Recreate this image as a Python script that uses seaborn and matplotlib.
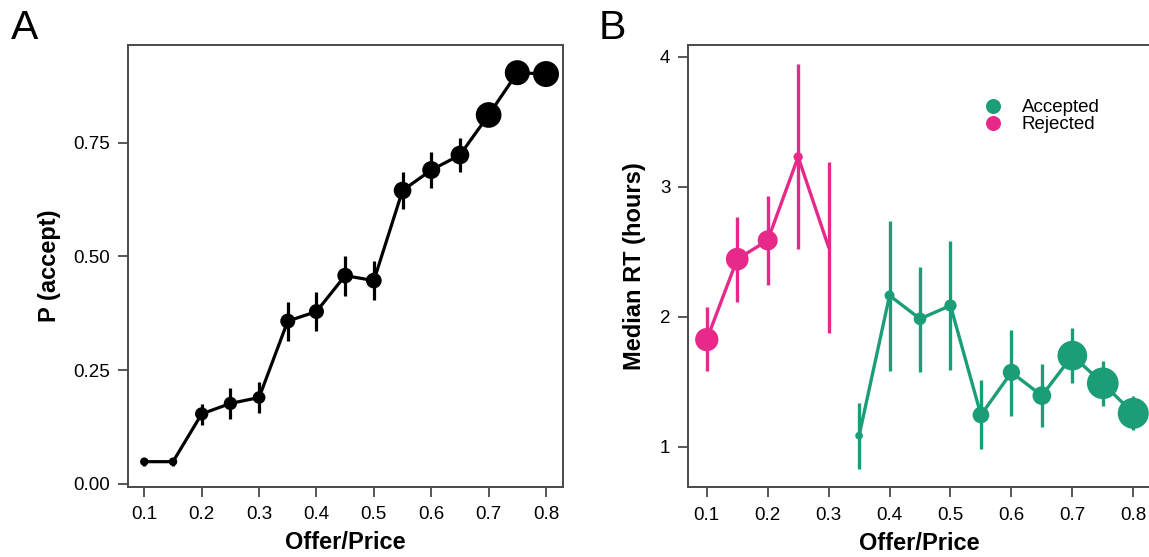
import matplotlib
matplotlib.use("Agg")
import matplotlib.pyplot as plt
from matplotlib.lines import Line2D
import seaborn as sns
import pandas as pd

# ---------------- data ----------------
offer = [0.10, 0.15, 0.20, 0.25, 0.30, 0.35, 0.40, 0.45, 0.50, 0.55, 0.60, 0.65, 0.70, 0.75, 0.80]
p_accept = [0.049, 0.049, 0.154, 0.177, 0.190, 0.358, 0.379, 0.458, 0.447, 0.645, 0.690, 0.723, 0.811, 0.904, 0.901]
p_lo = [0.040, 0.040, 0.130, 0.143, 0.155, 0.314, 0.336, 0.414, 0.404, 0.604, 0.651, 0.686, 0.792, 0.889, 0.886]
p_hi = [0.058, 0.058, 0.176, 0.212, 0.224, 0.401, 0.423, 0.502, 0.490, 0.686, 0.730, 0.761, 0.830, 0.919, 0.916]
n_a = [72, 72, 177, 177, 161, 225, 225, 246, 246, 313, 324, 350, 660, 625, 676]

rej_offer = [0.10, 0.15, 0.20, 0.25, 0.30]
rej_rt = [1.824, 2.443, 2.587, 3.229, 2.535]
rej_lo = [1.580, 2.112, 2.246, 2.518, 1.873]
rej_hi = [2.073, 2.767, 2.928, 3.941, 3.190]
rej_n = [543, 515, 400, 86, 9]

acc_offer = [0.35, 0.40, 0.45, 0.50, 0.55, 0.60, 0.65, 0.70, 0.75, 0.80]
acc_rt = [1.085, 2.163, 1.984, 2.086, 1.244, 1.572, 1.393, 1.701, 1.488, 1.257]
acc_lo = [0.828, 1.586, 1.578, 1.591, 0.982, 1.239, 1.154, 1.488, 1.313, 1.129]
acc_hi = [1.337, 2.736, 2.381, 2.582, 1.514, 1.901, 1.637, 1.911, 1.663, 1.388]
acc_n = [59, 100, 161, 151, 279, 299, 350, 882, 1004, 961]

x_ticks = [0.1, 0.2, 0.3, 0.4, 0.5, 0.6, 0.7, 0.8]
a_yticks = [0.00, 0.25, 0.50, 0.75]
b_yticks = [1, 2, 3, 4]
groups = ["Accepted", "Rejected"]

# ---------------- style ----------------
sns.set_style("ticks")
plt.rcParams["font.family"] = ["Liberation Sans", "DejaVu Sans"]
plt.rcParams["text.color"] = "black"
plt.rcParams["axes.labelcolor"] = "black"
plt.rcParams["xtick.labelcolor"] = "black"
plt.rcParams["ytick.labelcolor"] = "black"

GREEN = "#1b9e77"
PINK = "#e7298a"
SPINE = "#4a4a4a"
K = 0.72 ** 2  # px^2 -> pt^2 at 100 dpi

fig = plt.figure(figsize=(11.49, 5.57), dpi=100)
W, H = 1149, 557


def px_axes(l, t, r, b):
    return fig.add_axes([l / W, 1 - b / H, (r - l) / W, (b - t) / H])


axA = px_axes(128.3, 44.7, 562.7, 486.7)
axB = px_axes(688.3, 45.0, 1151.0, 487.3)


def style_axis(ax):
    for s in ax.spines.values():
        s.set_color(SPINE)
        s.set_linewidth(1.4)
        s.set_visible(True)
    ax.tick_params(axis="both", direction="out", length=7, width=1.3,
                   color=SPINE, labelsize=13.5, labelcolor="black", pad=6)
    ax.tick_params(axis="x", pad=7)


def draw_series(ax, xs, ys, lo, hi, n, color, lw):
    df = pd.DataFrame({"x": xs, "y": ys, "n": n})
    ax.vlines(xs, lo, hi, color=color, lw=lw, zorder=2)
    sns.lineplot(data=df, x="x", y="y", ax=ax, color=color, lw=lw,
                 sort=False, errorbar=None, zorder=3, legend=False)
    sns.scatterplot(data=df, x="x", y="y", size="n", ax=ax, color=color,
                    sizes=(K * min(n), K * max(n)), size_norm=(min(n), max(n)),
                    linewidth=0, legend=False, zorder=4)


# Panel A
draw_series(axA, offer, p_accept, p_lo, p_hi, n_a, "black", 2.3)
axA.set_xlim(0.0721, 0.8291)
axA.set_ylim(-0.006, 0.9655)
axA.set_xticks(x_ticks)
axA.set_xticklabels([f"{v:.1f}" for v in x_ticks])
axA.set_yticks(a_yticks)
axA.set_yticklabels([f"{v:.2f}" for v in a_yticks])
axA.set_xlabel("Offer/Price", fontsize=17, fontweight="bold", labelpad=6)
axA.set_ylabel("P (accept)", fontsize=17, fontweight="bold", labelpad=9)
style_axis(axA)

# Panel B
draw_series(axB, rej_offer, rej_rt, rej_lo, rej_hi, rej_n, PINK, 2.4)
draw_series(axB, acc_offer, acc_rt, acc_lo, acc_hi, acc_n, GREEN, 2.4)
axB.set_xlim(0.0697, 0.8291)
axB.set_ylim(0.688, 4.09)
axB.set_xticks(x_ticks)
axB.set_xticklabels([f"{v:.1f}" for v in x_ticks])
axB.set_yticks(b_yticks)
axB.set_yticklabels([str(v) for v in b_yticks])
axB.set_xlabel("Offer/Price", fontsize=17, fontweight="bold", labelpad=6)
axB.set_ylabel("Median RT (hours)", fontsize=17, fontweight="bold", labelpad=10)
style_axis(axB)

handles = [Line2D([], [], marker="o", ls="none", color=c, markersize=15 * 0.72,
                  markeredgewidth=0) for c in (GREEN, PINK)]
leg = axB.legend(handles, groups, loc="upper left", frameon=False, fontsize=13.5,
                 bbox_to_anchor=(983.6 / W, 1 - 99 / H), bbox_transform=fig.transFigure,
                 borderpad=0, borderaxespad=0, handlelength=1.0, handletextpad=1.03,
                 labelspacing=0.0)
for t in leg.get_texts():
    t.set_color("black")

fig.text(11 / W, 1 - 39.3 / H, "A", fontsize=29.5, va="baseline", ha="left", color="black")
fig.text(599 / W, 1 - 39.3 / H, "B", fontsize=29.5, va="baseline", ha="left", color="black")

fig.savefig("out.png", dpi=100)
